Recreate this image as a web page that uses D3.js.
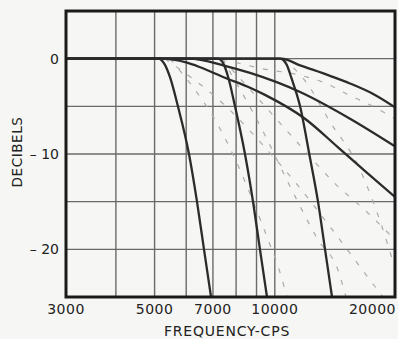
<!DOCTYPE html>
<html><head><meta charset="utf-8">
<script src="https://cdn.jsdelivr.net/npm/d3@7"></script>
<style>
html,body{margin:0;padding:0;background:#f6f6f4;}
svg{display:block;}
text{font-family:"DejaVu Sans",sans-serif;fill:#222;}
</style></head>
<body>
<svg id="c" width="398" height="339"></svg>
<script>
// ---- data ----
const xTicks = [3000, 5000, 7000, 10000, 20000];
const xTickLabels = ["3000", "5000", "7000", "10000", "20000"];
const xGrid = [4000, 5000, 6000, 7000, 8000, 9000, 10000];
const yTicks = [0, -10, -20];
const yTickLabels = ["0", "\u2013 10", "\u2013 20"];
const yGrid = [0, -5, -10, -15, -20];

// solid curves: [frequency, dB]
const sharp5000 = [[3000,0],[5100,0],[5300,-0.6],[5470,-2],[5720,-5],[6097,-10],[6385,-15],[6648,-20],[6924,-25]];
const sharp7000 = [[3000,0],[7200,0],[7450,-0.6],[7650,-2],[7950,-5],[8420,-10],[8820,-15],[9180,-20],[9560,-25]];
const sharp10000 = [[3000,0],[10300,0],[10700,-0.6],[11000,-2],[11570,-5],[12200,-10],[12830,-15],[13360,-20],[13910,-25]];
const gentle1 = [[3000,0],[5200,0],[6000,-0.4],[6500,-0.9],[7500,-2.0],[8670,-3.05],[9450,-3.8],[11900,-6.3],[14400,-9.3],[16830,-11.8],[20000,-14.5]];
const gentle2 = [[3000,0],[6100,0],[7500,-0.75],[8670,-1.5],[11570,-3.5],[15430,-6.3],[20000,-9.2]];
const gentle3 = [[3000,0],[10400,0],[11570,-0.7],[13750,-1.8],[15430,-2.6],[17820,-3.8],[20000,-5.1]];

// dashed curves
const dash1 = [[5300,0],[7635,-5.2],[9730,-9.9],[11170,-12.8],[13910,-17.9],[17020,-22.8],[18660,-25]];
const dash2 = [[5465,0],[7560,-8.6],[9560,-18.7],[10300,-22.4],[10730,-25]];
const dash3 = [[10485,0],[11900,-2.3],[13830,-6.8],[16065,-11],[18340,-17],[20000,-22]];
const dash4 = [[7380,0],[9180,-1.0],[11740,-1.8],[13440,-2.6],[15130,-3.7],[17420,-4.9],[20000,-6.3]];
const dash5 = [[7380,0],[9180,-7.0],[11040,-13.8],[12830,-19],[14400,-22.2],[15080,-25]];
const dash6 = [[7380,0],[9180,-4.4],[11566,-9.1],[14150,-13.1],[16830,-15.9],[20000,-19.0]];

const solidCurves = [sharp5000, sharp7000, sharp10000, gentle1, gentle2, gentle3];
const dashedCurves = [dash1, dash2, dash3, dash4, dash5, dash6];

// ---- layout ----
const L = 66, R = 395, T = 11, B = 297;
const svg = d3.select("#c");
const x = d3.scaleLog().domain([3000, 20000]).range([L, R]);
const y = d3.scaleLinear().domain([5, -25]).range([T, B]);

svg.append("defs").append("clipPath").attr("id","clip")
  .append("rect").attr("x",L).attr("y",T).attr("width",R-L).attr("height",B-T);

// grid
const g = svg.append("g");
g.selectAll(".vg").data(xGrid).enter().append("line")
  .attr("x1",d=>x(d)).attr("x2",d=>x(d)).attr("y1",T).attr("y2",B)
  .attr("stroke","#6a6a6a").attr("stroke-width",1.4);
g.selectAll(".hg").data(yGrid).enter().append("line")
  .attr("x1",L).attr("x2",R).attr("y1",d=>y(d)).attr("y2",d=>y(d))
  .attr("stroke","#6a6a6a").attr("stroke-width",1.4);

const line = d3.line().x(d=>x(d[0])).y(d=>y(d[1])).curve(d3.curveMonotoneX);
const cg = svg.append("g").attr("clip-path","url(#clip)");
cg.selectAll(".dc").data(dashedCurves).enter().append("path")
  .attr("d",line).attr("fill","none").attr("stroke","#ababab")
  .attr("stroke-width",1.2).attr("stroke-dasharray","5,9");
cg.selectAll(".sc").data(solidCurves).enter().append("path")
  .attr("d",line).attr("fill","none").attr("stroke","#2b2b2b")
  .attr("stroke-width",2.3);

// frame
svg.append("rect").attr("x",L).attr("y",T).attr("width",R-L).attr("height",B-T)
  .attr("fill","none").attr("stroke","#1a1a1a").attr("stroke-width",3);

// x labels
svg.selectAll(".xl").data(xTicks).enter().append("text")
  .attr("x",(d,i)=> i===xTicks.length-1 ? R+1 : x(d))
  .attr("y",314)
  .attr("text-anchor",(d,i)=> i===xTicks.length-1 ? "end" : "middle")
  .attr("font-size",14).attr("letter-spacing",0.5)
  .text((d,i)=>xTickLabels[i]);

// y labels
svg.selectAll(".yl").data(yTicks).enter().append("text")
  .attr("x",59).attr("y",d=>y(d)+5)
  .attr("text-anchor","end").attr("font-size",14)
  .text((d,i)=>yTickLabels[i]);

svg.append("text").attr("x",227).attr("y",336).attr("text-anchor","middle")
  .attr("font-size",14).attr("letter-spacing",0.8).text("FREQUENCY-CPS");

svg.append("text").attr("transform","translate(22,152) rotate(-90)")
  .attr("text-anchor","middle").attr("font-size",13.5).attr("letter-spacing",0.6)
  .text("DECIBELS");
</script>
</body></html>
